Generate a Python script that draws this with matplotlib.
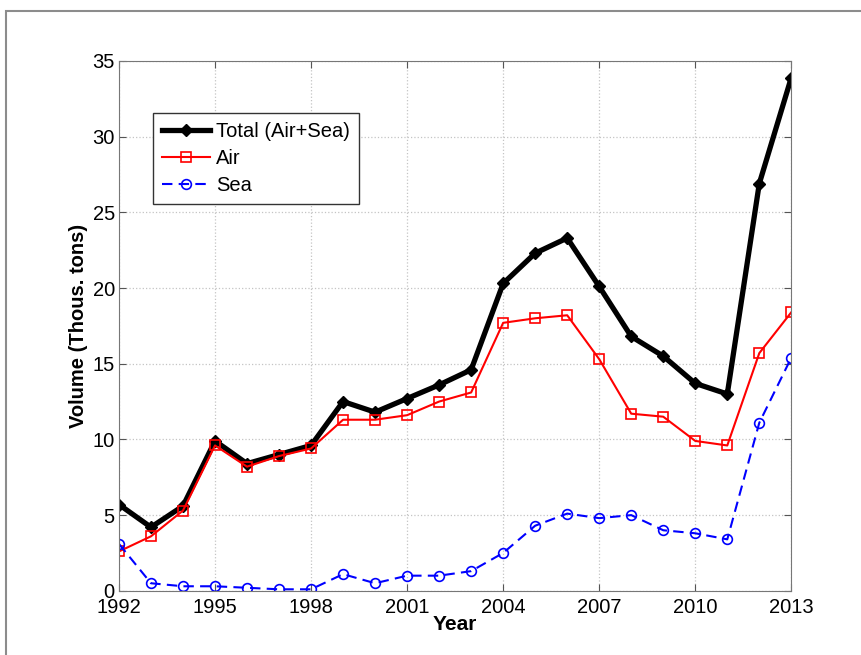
import matplotlib.pyplot as plt
from matplotlib.patches import Rectangle

plt.rcParams['font.family'] = ['Liberation Sans', 'DejaVu Sans']

# Jahre und Werte (Tausend Tonnen)
jahre = list(range(1992, 2014))
total = [5.7, 4.2, 5.6, 9.9, 8.4, 9.0, 9.6, 12.5, 11.8, 12.7, 13.6,
         14.6, 20.3, 22.3, 23.3, 20.1, 16.8, 15.5, 13.7, 13.0, 26.9, 33.9]
air = [2.6, 3.6, 5.3, 9.6, 8.2, 8.9, 9.4, 11.3, 11.3, 11.6, 12.5,
       13.1, 17.7, 18.0, 18.2, 15.3, 11.7, 11.5, 9.9, 9.6, 15.7, 18.4]
sea = [3.1, 0.5, 0.3, 0.3, 0.2, 0.1, 0.1, 1.1, 0.5, 1.0, 1.0,
       1.3, 2.5, 4.3, 5.1, 4.8, 5.0, 4.0, 3.8, 3.4, 11.1, 15.4]

x_ticks = [1992, 1995, 1998, 2001, 2004, 2007, 2010, 2013]
y_ticks = [0, 5, 10, 15, 20, 25, 30, 35]

fig = plt.figure(figsize=(8.62, 6.55), dpi=100)
ax = fig.add_axes([0.138, 0.098, 0.780, 0.809])

# Rahmen um die Abbildung (nur links/oben sichtbar)
fig.patches.append(Rectangle((0.007, -0.1), 1.2, 1.083, transform=fig.transFigure,
                             fill=False, edgecolor='#8c8c8c', linewidth=1.5))

ax.plot(jahre, total, color='black', linewidth=3.8, marker='D', markersize=6,
        markerfacecolor='black', label='Total (Air+Sea)')
ax.plot(jahre, air, color='red', linewidth=1.5, marker='s', markersize=7,
        markerfacecolor='none', markeredgewidth=1.2, label='Air')
ax.plot(jahre, sea, color='blue', linewidth=1.5, linestyle=(0, (5, 3)), marker='o',
        markersize=7, markerfacecolor='none', markeredgewidth=1.2, label='Sea')

ax.set_xlim(1992, 2013)
ax.set_ylim(0, 35)
ax.set_xticks(x_ticks)
ax.set_yticks(y_ticks)
ax.tick_params(direction='in', length=5, labelsize=14.5, top=True, right=True,
               color='#555555')
ax.tick_params(axis='x', pad=5)
ax.tick_params(axis='y', pad=3)
ax.grid(True, linestyle=':', color='#c4c4c4', linewidth=0.9)
for s in ax.spines.values():
    s.set_color('#777777')

ax.set_xlabel('Year', fontsize=15, fontweight='bold', labelpad=-1)
ax.set_ylabel('Volume (Thous. tons)', fontsize=14.5, fontweight='bold', labelpad=3)

leg = ax.legend(loc='upper left', bbox_to_anchor=(0.05, 0.902), fontsize=14.5,
                handlelength=2.4, fancybox=False, framealpha=1,
                edgecolor='#333333', borderpad=0.45, labelspacing=0.4,
                handletextpad=0.3, borderaxespad=0)
leg.get_frame().set_linewidth(1.0)

fig.savefig('out.png', dpi=100)
